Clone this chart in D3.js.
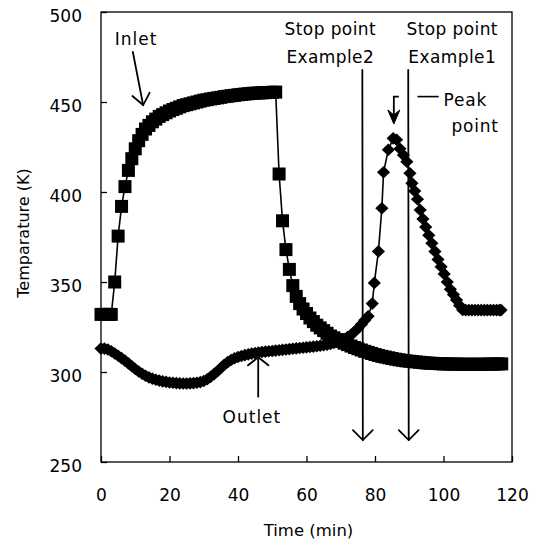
<!DOCTYPE html>
<html>
<head>
<meta charset="utf-8">
<script src="https://cdn.jsdelivr.net/npm/d3@7"></script>
<style>
  html, body { margin: 0; padding: 0; background: #fff; }
  svg { display: block; font-family: "DejaVu Sans", sans-serif; }
</style>
</head>
<body>
<svg id="chart" width="537" height="542"></svg>
<script>
// Inlet gas temperature (K) sampled once per minute
const inletTime = [
  0,1,2,3,4,5,6,7,8,9,10,11,12,13,14,15,16,17,18,19,
  20,21,22,23,24,25,26,27,28,29,30,31,32,33,34,35,36,37,38,39,
  40,41,42,43,44,45,46,47,48,49,50,51,52,53,54,55,56,57,58,59,
  60,61,62,63,64,65,66,67,68,69,70,71,72,73,74,75,76,77,78,79,
  80,81,82,83,84,85,86,87,88,89,90,91,92,93,94,95,96,97,98,99,
  100,101,102,103,104,105,106,107,108,109,110,111,112,113,114,115,116,117
];
const inletTemp = [
  332,332,332,332,350,375.5,392,403,412,418.5,
  424,428.5,432,435,437,439,440.5,442,443,444,
  445,445.8,446.5,447.3,448,448.5,449,449.5,450,450.5,
  451,451.3,451.7,452,452.3,452.6,453,453.2,453.5,453.7,
  454,454.2,454.4,454.6,454.8,454.9,455,455.1,455.2,455.3,
  455.4,455.5,410,384,368,357,348,342,338,335,
  332.5,330,328,326,324.5,323,321.5,320,319,318,
  317,316,315.2,314.4,313.6,312.9,312.2,311.5,310.9,310.3,
  309.7,309.2,308.7,308.3,307.9,307.5,307.1,306.8,306.5,306.2,
  306,305.8,305.6,305.4,305.2,305,304.9,304.8,304.7,304.6,
  304.5,304.5,304.4,304.4,304.4,304.3,304.3,304.3,304.3,304.3,
  304.3,304.3,304.3,304.4,304.4,304.4,304.5,304.5
];

// Outlet gas temperature (K)
const outletTime = [
  0,1,2,3,4,5,6,7,8,9,10,11,12,13,14,15,16,17,18,19,
  20,21,22,23,24,25,26,27,28,29,30,31,32,33,34,35,36,37,38,39,
  40,41,42,43,44,45,46,47,48,49,50,51,52,53,54,55,56,57,58,59,
  60,61,62,63,64,65,66,67,68,69,70,71,72,73,74,75,76,77,78,
  79.2,79.8,81.0,82.0,82.5,83.9,85.3,86.3,87.3,88.3,89.3,90.2,90.8,
  91.6,92.4,93.2,94.0,94.8,95.7,96.6,97.5,98.4,99.3,100.2,101.1,102.0,
  102.9,103.8,104.7,105.6,106.5,107.4,108.3,109.2,110.1,111.0,111.9,
  112.8,113.7,114.6,115.5,116.3,116.8
];
const outletTemp = [
  313,313,312.5,311.5,310.3,309,307.7,306.3,304.8,303.2,
  301.7,300.3,299,297.9,297,296.3,295.7,295.2,294.8,294.5,
  294.2,294,293.8,293.7,293.6,293.6,293.7,293.8,294,294.4,
  295,296,297.3,298.8,300.4,302.2,304,305.5,306.7,307.6,
  308.3,308.9,309.4,309.8,310.2,310.5,310.8,311.1,311.3,311.5,
  311.7,311.9,312.1,312.3,312.5,312.7,312.9,313.1,313.3,313.5,
  313.7,313.9,314.1,314.3,314.6,314.9,315.2,315.6,316.1,316.7,
  317.4,318.3,319.4,320.7,322.3,324.2,326.4,328.7,331,
  338,349.5,367,391,411,423.5,429.8,429,424,420.5,416.8,410.4,404.8,
  400.5,396,390,385,380.5,376,371.5,367,362.5,358.5,354.5,350,346,
  343,340,337,334.5,334.4,334.4,334.4,334.4,334.4,334.4,334.4,
  334.4,334.4,334.4,334.4,334.4,334.4
];

const timeTicks = [0, 20, 40, 60, 80, 100, 120];
const tempTicks = [250, 300, 350, 400, 450, 500];

// Stop points marked by long downward arrows
const stopTimes = [76.3, 89.7];
const stopLabels = [["Stop point", "Example2"], ["Stop point", "Example1"]];

const svg = d3.select("#chart");
const plot = { left: 101, right: 512, top: 12, bottom: 462 };

const x = d3.scaleLinear().domain([0, 120]).range([plot.left, plot.right]);
const y = d3.scaleLinear().domain([250, 500]).range([plot.bottom, plot.top]);

const ink = "#000";
const fontSize = 17;

// Axes with inward ticks
const xAxis = svg.append("g")
  .attr("transform", `translate(0,${plot.bottom})`)
  .call(d3.axisBottom(x).tickValues(timeTicks).tickSize(-6).tickPadding(27).tickFormat(d3.format("d")));
const yAxis = svg.append("g")
  .attr("transform", `translate(${plot.left},0)`)
  .call(d3.axisLeft(y).tickValues(tempTicks).tickSize(-6).tickPadding(19).tickFormat(d3.format("d")));

[xAxis, yAxis].forEach(g => {
  g.select(".domain").remove();
  g.selectAll(".tick line").attr("stroke", ink).attr("stroke-width", 1.3);
  g.selectAll(".tick text")
    .attr("fill", ink)
    .style("font-family", "DejaVu Sans, sans-serif")
    .style("font-size", fontSize + "px");
});
yAxis.selectAll(".tick text").attr("dy", "0.55em");
xAxis.selectAll(".tick text").attr("dy", "0.73em");

// Plot frame
svg.append("rect")
  .attr("x", plot.left).attr("y", plot.top)
  .attr("width", plot.right - plot.left).attr("height", plot.bottom - plot.top)
  .attr("fill", "none").attr("stroke", ink).attr("stroke-width", 1.3);

// Axis titles
svg.append("text")
  .attr("x", (plot.left + plot.right) / 2 + 2).attr("y", 536)
  .attr("text-anchor", "middle")
  .style("font-size", "16.5px").attr("fill", ink)
  .text("Time (min)");
svg.append("text")
  .attr("transform", `translate(29,${(plot.top + plot.bottom) / 2 - 4}) rotate(-90)`)
  .attr("text-anchor", "middle")
  .style("font-size", "16px").attr("fill", ink)
  .text("Temparature (K)");

// Series
const line = d3.line().x(d => x(d[0])).y(d => y(d[1]));
const inlet = inletTime.map((t, i) => [t, inletTemp[i]]);
const outlet = outletTime.map((t, i) => [t, outletTemp[i]]);

svg.append("path").datum(inlet)
  .attr("d", line).attr("fill", "none").attr("stroke", ink).attr("stroke-width", 1.6);
svg.append("path").datum(outlet)
  .attr("d", line).attr("fill", "none").attr("stroke", ink).attr("stroke-width", 1.6);

const sq = 13;
svg.append("g").selectAll("rect").data(inlet).join("rect")
  .attr("x", d => x(d[0]) - sq / 2).attr("y", d => y(d[1]) - sq / 2)
  .attr("width", sq).attr("height", sq).attr("fill", ink);

const diamond = "M0,-6.3L6.6,0L0,6.3L-6.6,0Z";
svg.append("g").selectAll("path").data(outlet).join("path")
  .attr("transform", d => `translate(${x(d[0])},${y(d[1])})`)
  .attr("d", diamond).attr("fill", ink);

// Arrow helper: shaft from (x1,y1) to tip (x2,y2) with open V head
function arrow(x1, y1, x2, y2, len, ang) {
  const a = Math.atan2(y1 - y2, x1 - x2);
  const g = svg.append("g").attr("stroke", ink).attr("fill", "none")
    .attr("stroke-width", 1.8).attr("stroke-linecap", "round");
  g.append("line").attr("x1", x1).attr("y1", y1).attr("x2", x2).attr("y2", y2);
  g.append("path").attr("d",
    `M${x2 + len * Math.cos(a + ang)},${y2 + len * Math.sin(a + ang)}` +
    `L${x2},${y2}` +
    `L${x2 + len * Math.cos(a - ang)},${y2 + len * Math.sin(a - ang)}`);
}

// Stop point arrows and labels
stopTimes.forEach((t, i) => {
  arrow(x(t), y(467.8), x(t) + 0.5, y(262.2), 14, Math.PI / 4);
  const cx = i === 0 ? x(t) - 32 : x(t) + 44;
  svg.append("text").attr("x", cx).attr("y", 35).attr("text-anchor", "middle")
    .style("font-size", fontSize + "px").style("letter-spacing", "0.4px").attr("fill", ink)
    .text(stopLabels[i][0]);
  svg.append("text").attr("x", cx).attr("y", 62.5).attr("text-anchor", "middle")
    .style("font-size", fontSize + "px").style("letter-spacing", "0.4px").attr("fill", ink)
    .text(stopLabels[i][1]);
});

// Inlet label and arrow
svg.append("text").attr("x", x(4)).attr("y", 45)
  .style("font-size", fontSize + "px").style("letter-spacing", "1px").attr("fill", ink).text("Inlet");
arrow(x(9.3), y(477.8), x(12.3), y(448.3), 14, 0.68);

// Outlet label and arrow
svg.append("text").attr("x", x(35.5)).attr("y", 423.3)
  .style("font-size", fontSize + "px").style("letter-spacing", "1px").attr("fill", ink).text("Outlet");
arrow(x(45.9), y(286.3), x(45.9), y(308.2), 13, 0.9);

// Peak point marker
const px = x(85.5), pTop = y(453), pTip = y(437.8);
svg.append("path")
  .attr("d", `M${px + 5},${pTop}L${px},${pTop}L${px},${pTip - 8}`)
  .attr("fill", "none").attr("stroke", ink).attr("stroke-width", 1.8);
svg.append("path")
  .attr("d", `M${px - 6},${pTip - 14}L${px},${pTip - 9}L${px + 6},${pTip - 14}L${px},${pTip}Z`)
  .attr("fill", ink).attr("stroke", ink).attr("stroke-width", 1).attr("stroke-linejoin", "round");
svg.append("line")
  .attr("x1", x(92.4)).attr("x2", x(98.6)).attr("y1", pTop).attr("y2", pTop)
  .attr("stroke", ink).attr("stroke-width", 1.6);
svg.append("text").attr("x", x(100)).attr("y", 105.5)
  .style("font-size", fontSize + "px").style("letter-spacing", "0.8px").attr("fill", ink).text("Peak");
svg.append("text").attr("x", x(102.3)).attr("y", 131.5)
  .style("font-size", fontSize + "px").style("letter-spacing", "0.8px").attr("fill", ink).text("point");
</script>
</body>
</html>
